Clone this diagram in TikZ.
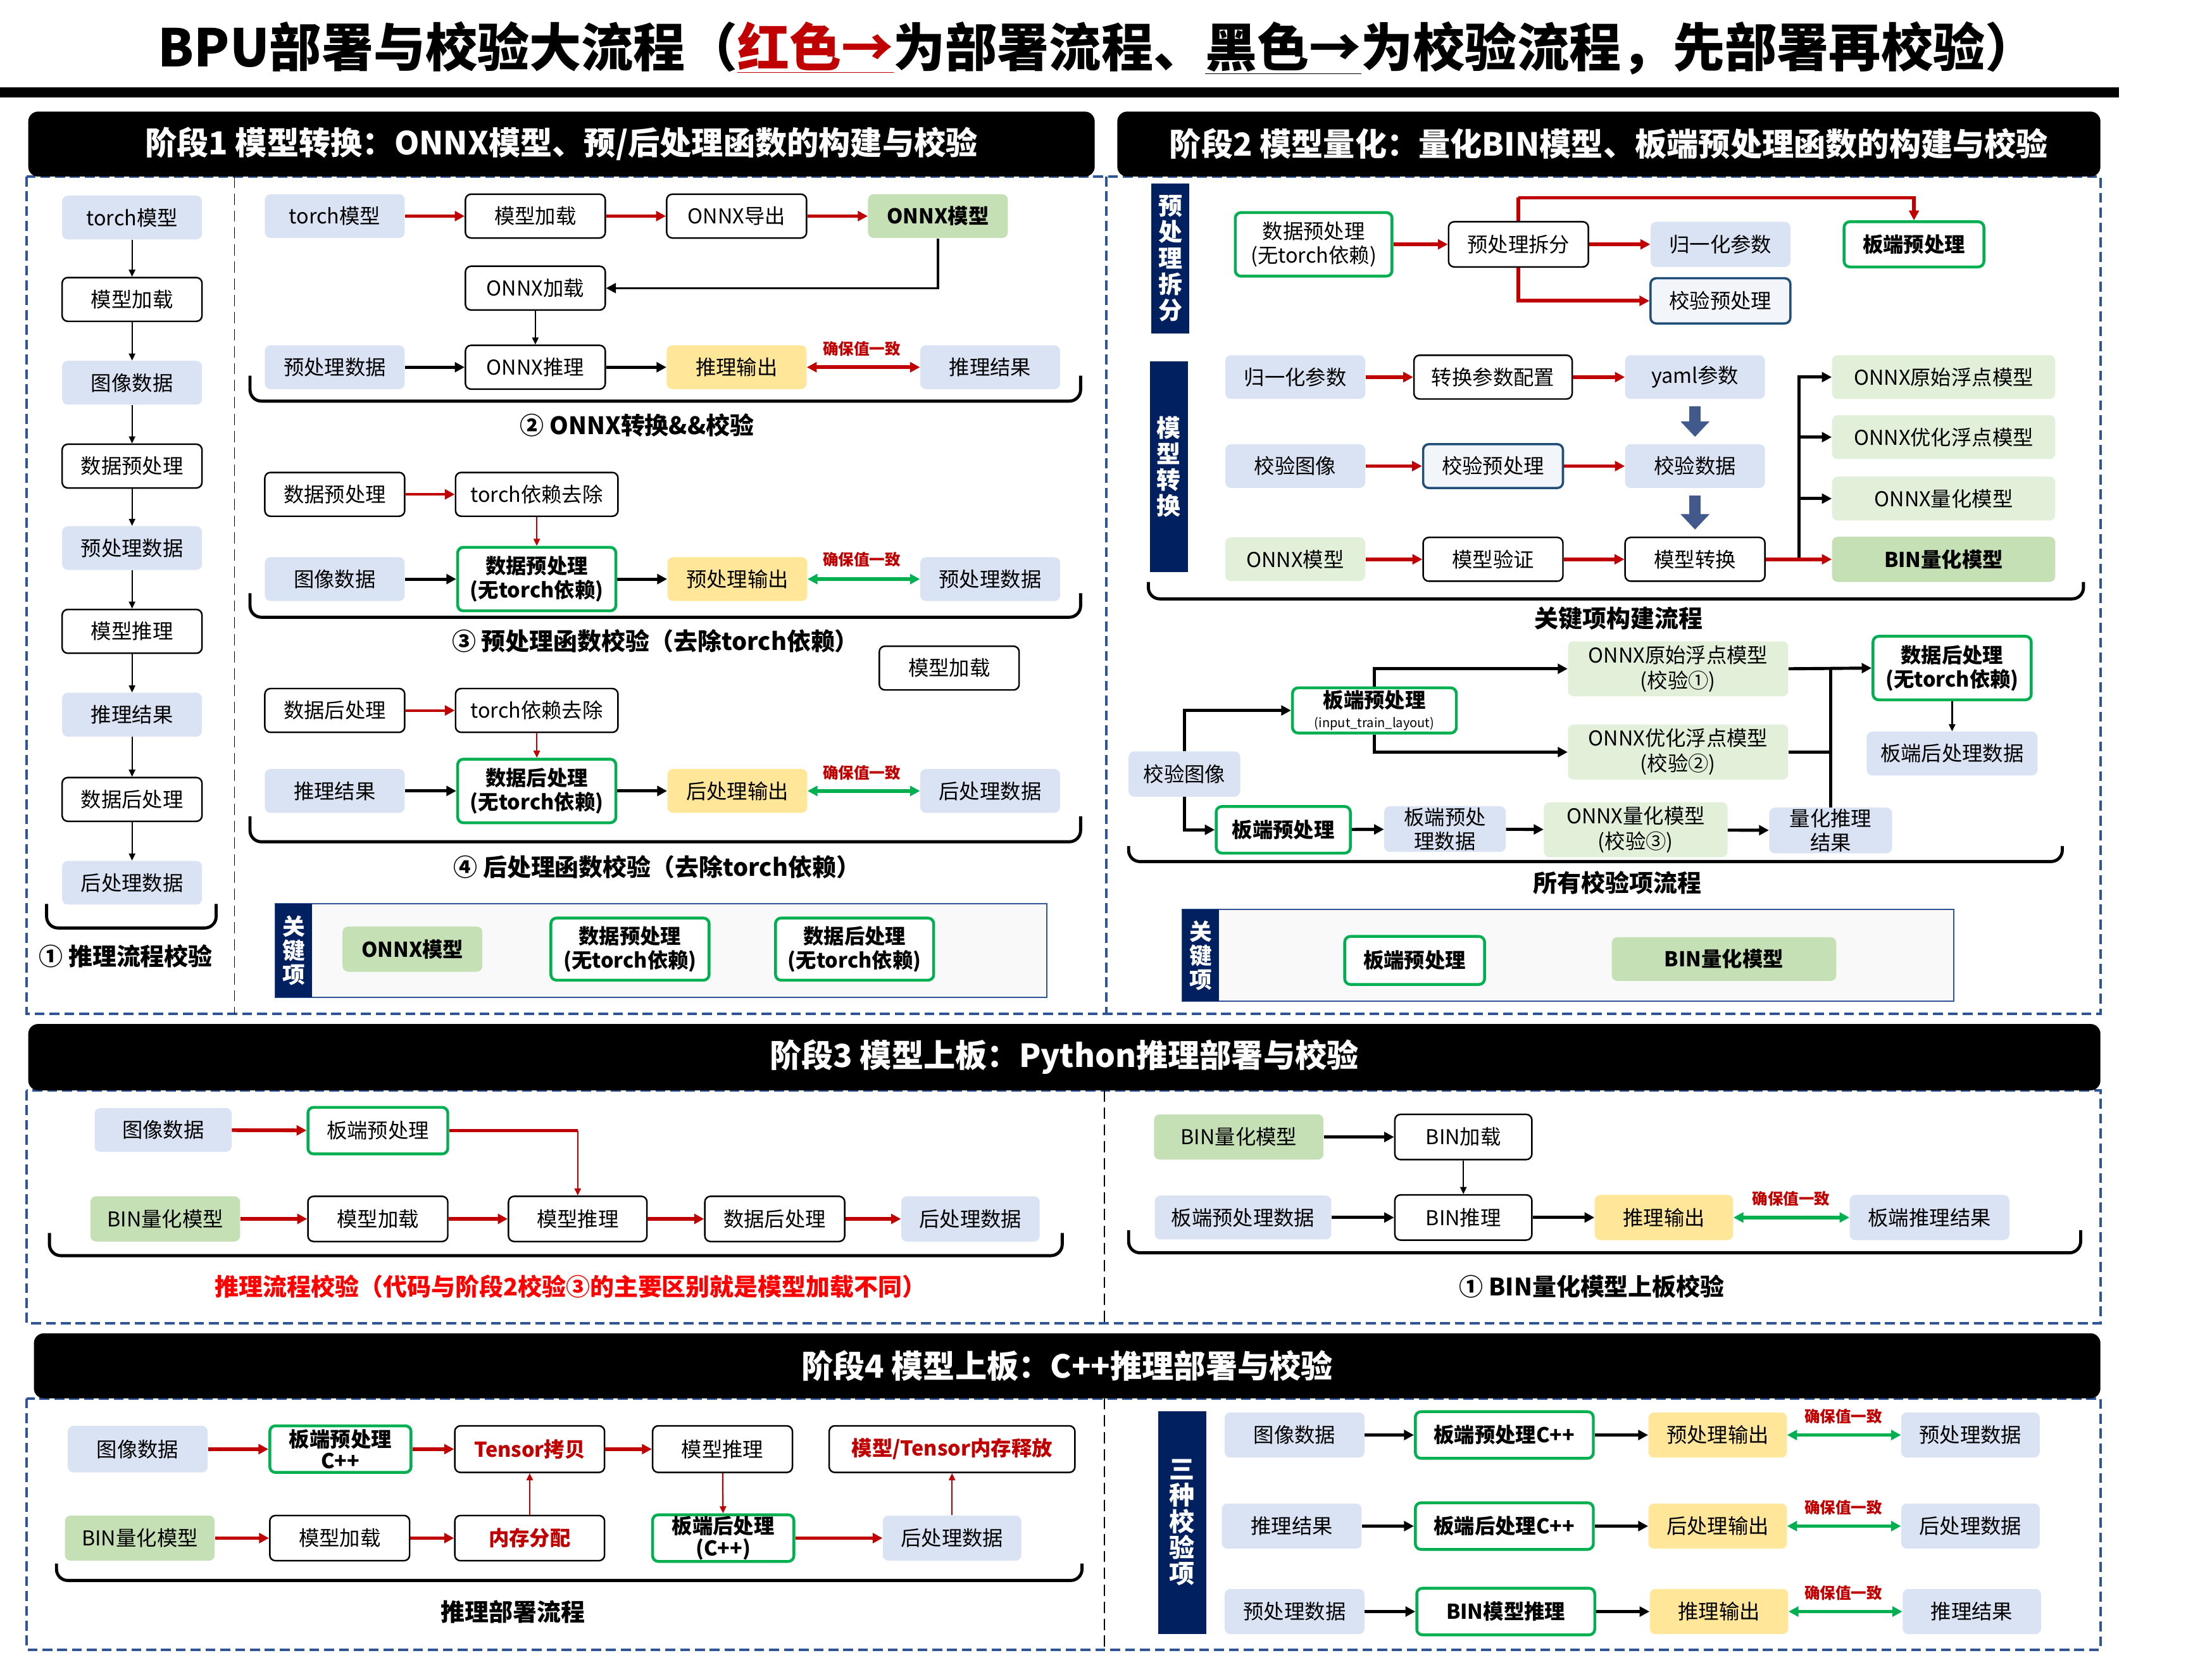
\documentclass[tikz,border=0pt]{standalone}
\usepackage{fontspec}
\setmainfont{Noto Sans CJK SC}
\usepackage{xcolor}
\usetikzlibrary{arrows.meta}
\definecolor{cBlue}{HTML}{DAE3F3}
\definecolor{cGreen}{HTML}{C5E0B4}
\definecolor{cLtGreen}{HTML}{E2F0D9}
\definecolor{cYellow}{HTML}{FFE699}
\definecolor{cGreenB}{HTML}{00B050}
\definecolor{cRed}{HTML}{C00000}
\definecolor{cBright}{HTML}{FF0000}
\definecolor{cNavy}{HTML}{002060}
\definecolor{cDash}{HTML}{2F5597}
\definecolor{cDkBlue}{HTML}{1F4E79}
\definecolor{cPale}{HTML}{F2F6FB}
\definecolor{cArrow}{HTML}{42598C}
\definecolor{cKey}{HTML}{F9F9F9}

\begin{document}
\begin{tikzpicture}[x=1pt,y=-1pt,
  every node/.style={font=\fontsize{14.5}{16}\selectfont},
  box/.style={rounded corners=4pt,minimum width=99pt,minimum height=31pt,inner sep=1pt,align=center},
  blu/.style={box,fill=cBlue},
  wht/.style={box,draw=black,line width=1.1pt,fill=white},
  grn/.style={box,fill=cGreen},
  lgrn/.style={box,fill=cLtGreen},
  ylw/.style={box,fill=cYellow},
  gbox/.style={box,draw=cGreenB,line width=2pt,fill=white},
  vbox/.style={box,draw=cDkBlue,line width=1.6pt,fill=cPale},
  heavy/.style={font=\fontsize{14.5}{16}\selectfont\bfseries},
  heavy2/.style={font=\fontsize{14.5}{17}\selectfont\bfseries},
  two/.style={font=\fontsize{14.5}{18}\selectfont},
  hdr/.style={fill=black,rounded corners=7pt,text=white,font=\fontsize{22.5}{24}\selectfont\bfseries},
  lbl/.style={font=\fontsize{17}{19}\selectfont\bfseries},
  chk/.style={text=cRed,font=\fontsize{11}{12}\selectfont\bfseries},
  strip/.style={fill=cNavy,text=white,align=center,inner sep=0pt,font=\fontsize{17}{18.5}\selectfont\bfseries},
  dep/.style={draw=cRed,line width=2.6pt,-{Triangle[length=7pt,width=7pt]}},
  depthin/.style={draw=cRed,line width=1pt,-{Triangle[length=5pt,width=4.5pt]}},
  ver/.style={draw=black,line width=2.2pt,-{Triangle[length=7pt,width=7pt]}},
  verthin/.style={draw=black,line width=1pt,-{Triangle[length=5pt,width=4.5pt]}},
  same/.style={draw=cGreenB,line width=2.6pt,{Triangle[length=7pt,width=7pt]}-{Triangle[length=7pt,width=7pt]}},
  samered/.style={same,draw=cRed},
  bkt/.style={draw=black,line width=2.2pt,rounded corners=8pt},
  dashbox/.style={draw=cDash,line width=1.8pt,dash pattern=on 7pt off 3.5pt},
  divline/.style={draw=black,line width=0.8pt,dash pattern=on 8pt off 4pt},
  bigarr/.style={draw=cArrow,line width=8pt,-{Triangle[length=11pt,width=20pt]},shorten <=5pt,shorten >=5pt}]
  \useasboundingbox (0,0) rectangle (1566,1170);

  % title
  \node[font=\fontsize{36.8}{40}\selectfont\bfseries] (title) at (777,34) {BPU部署与校验大流程（\textcolor{cRed}{\underline{红色→}}为部署流程、\underline{黑色→}为校验流程，先部署再校验）};
  \fill (0,62) rectangle (1500,69);

  % frames
  \draw[dashbox] (19,125) rectangle (1487,718);
  \draw[dashbox] (783,125) -- (783,718);
  \draw[divline] (166,125) -- (166,718);
  \draw[dashbox] (19,772) rectangle (1487,937);
  \draw[divline] (782,772) -- (782,937);
  \draw[dashbox] (19,990) rectangle (1487,1168);
  \draw[divline] (782,990) -- (782,1168);
  \node[hdr,minimum width=755pt,minimum height=46pt] (hd1) at (397.5,102) {阶段1 模型转换：ONNX模型、预/后处理函数的构建与校验};
  \node[hdr,minimum width=696pt,minimum height=46pt] (hd2) at (1139,102) {阶段2 模型量化：量化BIN模型、板端预处理函数的构建与校验};
  \node[hdr,minimum width=1467pt,minimum height=47pt] (hd3) at (753.5,748.5) {阶段3 模型上板：Python推理部署与校验};
  \node[hdr,minimum width=1463pt,minimum height=46pt] (hd4) at (755.5,967) {阶段4 模型上板：C++推理部署与校验};

  % stage 1, left column
  \node[blu] (L1) at (93.5,154) {torch模型};
  \node[wht] (L2) at (93.5,212) {模型加载};
  \node[blu] (L3) at (93.5,271) {图像数据};
  \node[wht] (L4) at (93.5,330) {数据预处理};
  \node[blu] (L5) at (93.5,388) {预处理数据};
  \node[wht] (L6) at (93.5,447) {模型推理};
  \node[blu] (L7) at (93.5,506) {推理结果};
  \node[wht] (L8) at (93.5,566) {数据后处理};
  \node[blu] (L9) at (93.5,625) {后处理数据};
  \draw[verthin] (L1) -- (L2);
  \draw[verthin] (L2) -- (L3);
  \draw[verthin] (L3) -- (L4);
  \draw[verthin] (L4) -- (L5);
  \draw[verthin] (L5) -- (L6);
  \draw[verthin] (L6) -- (L7);
  \draw[verthin] (L7) -- (L8);
  \draw[verthin] (L8) -- (L9);
  \draw[bkt] (33,640) -- (33,657) -- (153,657) -- (153,640);
  \node[lbl] (lb1) at (89,677) {① 推理流程校验};

  % stage 1, onnx export
  \node[blu] (A1) at (237,153) {torch模型};
  \node[wht] (A2) at (379,153) {模型加载};
  \node[wht] (A3) at (521.5,153) {ONNX导出};
  \node[grn,heavy] (A4) at (664,153) {ONNX模型};
  \node[wht] (A5) at (379,204) {ONNX加载};
  \node[blu] (A6) at (237,260) {预处理数据};
  \node[wht] (A7) at (379,260) {ONNX推理};
  \node[ylw] (A8) at (521.5,260) {推理输出};
  \node[blu] (A9) at (701,260) {推理结果};
  \draw[dep] (A1) -- (A2);
  \draw[dep] (A2) -- (A3);
  \draw[dep] (A3) -- (A4);
  \draw[ver,line width=1.6pt] (A4.south) |- (A5.east);
  \draw[verthin] (A5) -- (A7);
  \draw[ver] (A6) -- (A7);
  \draw[ver] (A7) -- (A8);
  \draw[samered] (A8) -- (A9);
  \node[chk] (ck1) at (610,247) {确保值一致};
  \draw[bkt] (177,266) -- (177,284) -- (765,284) -- (765,266);
  \node[lbl] (lb2) at (451,301) {② ONNX转换\&\&校验};

  % stage 1, pre-processing
  \node[wht] (B1) at (237,350) {数据预处理};
  \node[wht,minimum width=115pt] (B2) at (380,350) {torch依赖去除};
  \node[blu] (B3) at (237,410) {图像数据};
  \node[gbox,heavy2,minimum width=112pt,minimum height=45pt] (B4) at (380,410) {数据预处理\\(无torch依赖)};
  \node[ylw] (B5) at (522,410) {预处理输出};
  \node[blu] (B6) at (701,410) {预处理数据};
  \draw[dep,line width=1.8pt] (B1) -- (B2);
  \draw[depthin] (B2) -- (B4);
  \draw[ver] (B3) -- (B4);
  \draw[ver] (B4) -- (B5);
  \draw[same] (B5) -- (B6);
  \node[chk] (ck2) at (610,396) {确保值一致};
  \draw[bkt] (177,420) -- (177,437) -- (765,437) -- (765,420);
  \node[lbl] (lb3) at (464,454) {③ 预处理函数校验（去除torch依赖）};
  \node[wht] (B7) at (672,473) {模型加载};

  % stage 1, post-processing
  \node[wht] (C1) at (237,503) {数据后处理};
  \node[wht,minimum width=115pt] (C2) at (380,503) {torch依赖去除};
  \node[blu] (C3) at (237,560) {推理结果};
  \node[gbox,heavy2,minimum width=112pt,minimum height=45pt] (C4) at (380,560) {数据后处理\\(无torch依赖)};
  \node[ylw] (C5) at (522,560) {后处理输出};
  \node[blu] (C6) at (701,560) {后处理数据};
  \draw[dep,line width=1.8pt] (C1) -- (C2);
  \draw[depthin] (C2) -- (C4);
  \draw[ver] (C3) -- (C4);
  \draw[ver] (C4) -- (C5);
  \draw[same] (C5) -- (C6);
  \node[chk] (ck3) at (610,547) {确保值一致};
  \draw[bkt] (177,578) -- (177,596) -- (765,596) -- (765,578);
  \node[lbl] (lb4) at (465,614) {④ 后处理函数校验（去除torch依赖）};

  % stage 1, key items
  \draw[draw=cDash,line width=1pt,fill=cKey] (195,640) rectangle (741,706);
  \node[strip,minimum width=26pt,minimum height=66pt,font=\fontsize{16}{17}\selectfont\bfseries] (ks1) at (208,673) {关\\键\\项};
  \node[grn,heavy,minimum height=32pt] (K1) at (292,672) {ONNX模型};
  \node[gbox,heavy2,minimum width=112pt,minimum height=44pt] (K2) at (446,672) {数据预处理\\(无torch依赖)};
  \node[gbox,heavy2,minimum width=112pt,minimum height=44pt] (K3) at (605,672) {数据后处理\\(无torch依赖)};

  % stage 2, split
  \node[strip,minimum width=27pt,minimum height=106pt] (sp1) at (828.5,183) {预\\处\\理\\拆\\分};
  \node[gbox,font=\fontsize{14.5}{17}\selectfont,minimum width=111pt,minimum height=45pt] (P1) at (930,173) {数据预处理\\(无torch依赖)};
  \node[wht,minimum height=32pt] (P2) at (1075,173) {预处理拆分};
  \node[blu,minimum height=32pt] (P3) at (1218,173) {归一化参数};
  \node[gbox,heavy,minimum height=32pt] (P4) at (1355,173) {板端预处理};
  \node[vbox,minimum height=32pt] (P5) at (1218,213) {校验预处理};
  \coordinate (pt) at (1075,140);
  \draw[dep] (P1) -- (P2);
  \draw[dep] (P2) -- (P3);
  \draw[dep,-] (P2.north) -- (pt);
  \draw[dep] (pt) -| (P4.north);
  \draw[dep] (P2.south) |- (P5.west);

  % stage 2, conversion
  \node[strip,minimum width=27pt,minimum height=149pt] (sp2) at (827.5,330.5) {模\\型\\转\\换};
  \node[blu] (M1) at (917,267) {归一化参数};
  \node[wht,minimum width=112pt] (M2) at (1057,267) {转换参数配置};
  \node[blu] (M3) at (1200,267) {yaml参数};
  \node[blu] (M4) at (917,330) {校验图像};
  \node[vbox] (M5) at (1057,330) {校验预处理};
  \node[blu] (M6) at (1200,330) {校验数据};
  \node[lgrn] (M7) at (917,396) {ONNX模型};
  \node[wht] (M8) at (1057,396) {模型验证};
  \node[wht] (M9) at (1200,396) {模型转换};
  \node[lgrn,minimum width=158pt] (R1) at (1376,267) {ONNX原始浮点模型};
  \node[lgrn,minimum width=158pt] (R2) at (1376,309.5) {ONNX优化浮点模型};
  \node[lgrn,minimum width=158pt] (R3) at (1376,353) {ONNX量化模型};
  \node[grn,heavy,minimum width=158pt,minimum height=32pt] (R4) at (1376,396) {BIN量化模型};
  \draw[dep] (M1) -- (M2);
  \draw[dep] (M2) -- (M3);
  \draw[dep] (M4) -- (M5);
  \draw[dep] (M5) -- (M6);
  \draw[dep] (M7) -- (M8);
  \draw[dep] (M8) -- (M9);
  \draw[bigarr] (M3) -- (M6);
  \draw[bigarr] (M6) -- (M9);
  \coordinate (mx) at (1273.5,396);
  \draw[ver] (mx) |- (R1.west);
  \draw[ver] (mx) |- (R2.west);
  \draw[ver] (mx) |- (R3.west);
  \draw[dep] (M9) -- (R4);
  \draw[bkt] (813,412) -- (813,424) -- (1475,424) -- (1475,412);
  \node[lbl] (lb5) at (1146,438) {关键项构建流程};

  % stage 2, all checks
  \node[blu,minimum width=79pt,minimum height=32pt] (V1) at (838.5,548) {校验图像};
  \node[gbox,minimum width=116pt,minimum height=32pt] (V2) at (973,503) {{\bfseries 板端预处理}\\[-2pt]{\fontsize{9}{10}\selectfont(input\_train\_layout)}};
  \node[lgrn,two,minimum width=156pt,minimum height=39pt] (V3) at (1188,473.5) {ONNX原始浮点模型\\(校验①)};
  \node[lgrn,two,minimum width=156pt,minimum height=39pt] (V4) at (1188,532.5) {ONNX优化浮点模型\\(校验②)};
  \node[gbox,heavy2,minimum width=112pt,minimum height=45pt] (V5) at (1382,473) {数据后处理\\(无torch依赖)};
  \node[blu,minimum width=121pt] (V6) at (1382,533.5) {板端后处理数据};
  \node[gbox,heavy,minimum width=95pt,minimum height=33pt] (V7) at (908.5,587.5) {板端预处理};
  \node[blu,font=\fontsize{14.5}{17}\selectfont,minimum width=86pt,minimum height=32pt] (V8) at (1023,587) {板端预处\\理数据};
  \node[lgrn,two,minimum width=130pt,minimum height=39pt] (V9) at (1158,587.5) {ONNX量化模型\\(校验③)};
  \node[blu,font=\fontsize{14.5}{17}\selectfont,minimum width=87pt,minimum height=32pt] (V10) at (1296,588) {量化推理\\结果};
  \draw[ver] (V1.north) |- (V2.west);
  \draw[ver] (V1.south) |- (V7.west);
  \draw[ver] (V2.north) |- (V3.west);
  \draw[ver] (V2.south) |- (V4.west);
  \draw[ver] (V7) -- (V8);
  \draw[ver] (V8) -- (V9);
  \draw[ver] (V9) -- (V10);
  \draw[ver] (V3.east) -- (V5.west);
  \draw[ver,-] (V4.east) -- (V4.east -| V10.north);
  \draw[ver,-] (V10.north) -- (V10.north |- V5.west);
  \draw[verthin,line width=1.4pt] (V5) -- (V6);
  \draw[bkt] (799,599) -- (799,610) -- (1460,610) -- (1460,599);
  \node[lbl] (lb6) at (1145,625) {所有校验项流程};

  % stage 2, key items
  \draw[draw=cDash,line width=1pt,fill=cKey] (837,644) rectangle (1383,709);
  \node[strip,minimum width=26pt,minimum height=65pt,font=\fontsize{16}{17}\selectfont\bfseries] (ks2) at (850,676.5) {关\\键\\项};
  \node[gbox,heavy,minimum height=34pt] (K4) at (1001.5,680) {板端预处理};
  \node[grn,heavy,minimum width=159pt] (K5) at (1220.5,679) {BIN量化模型};

  % stage 3, python flow
  \node[blu,minimum width=97pt] (S1) at (115.5,800) {图像数据};
  \node[gbox,minimum height=33pt] (S2) at (267.5,800.5) {板端预处理};
  \node[grn,minimum width=106pt,minimum height=32pt] (S3) at (117,863) {BIN量化模型};
  \node[wht,minimum height=32pt] (S4) at (267.5,863) {模型加载};
  \node[wht,minimum width=98pt,minimum height=32pt] (S5) at (409,863) {模型推理};
  \node[wht,minimum height=32pt] (S6) at (548.5,863) {数据后处理};
  \node[blu,minimum width=98pt,minimum height=32pt] (S7) at (687,863) {后处理数据};
  \coordinate (sx) at (409,800.5);
  \draw[dep] (S1) -- (S2);
  \draw[dep,-] (S2) -- (sx);
  \draw[depthin] (sx) -- (S5);
  \draw[dep] (S3) -- (S4);
  \draw[dep] (S4) -- (S5);
  \draw[dep] (S5) -- (S6);
  \draw[dep] (S6) -- (S7);
  \draw[bkt] (35,873) -- (35,889) -- (752,889) -- (752,873);
  \node[lbl,text=cBright] (lb7) at (404,911) {推理流程校验（代码与阶段2校验③的主要区别就是模型加载不同）};

  % stage 3, bin check
  \node[grn,minimum width=120pt,minimum height=32pt] (T1) at (877,805) {BIN量化模型};
  \node[wht,minimum width=97pt,minimum height=32pt] (T2) at (1036,805) {BIN加载};
  \node[blu,minimum width=125pt] (T3) at (880,862) {板端预处理数据};
  \node[wht,minimum width=97pt,minimum height=32pt] (T4) at (1036,862) {BIN推理};
  \node[ylw,minimum width=98pt,minimum height=32pt] (T5) at (1178,862) {推理输出};
  \node[blu,minimum width=113pt,minimum height=32pt] (T6) at (1366,862) {板端推理结果};
  \draw[ver] (T1) -- (T2);
  \draw[verthin] (T2) -- (T4);
  \draw[ver] (T3) -- (T4);
  \draw[ver] (T4) -- (T5);
  \draw[same] (T5) -- (T6);
  \node[chk] (ck4) at (1268,848.5) {确保值一致};
  \draw[bkt] (799,871) -- (799,887) -- (1473,887) -- (1473,871);
  \node[lbl] (lb8) at (1127,911) {① BIN量化模型上板校验};

  % stage 4, c++ flow
  \node[blu,minimum height=33pt] (F1) at (97.5,1026) {图像数据};
  \node[gbox,heavy,minimum width=100pt,minimum height=33pt,font=\fontsize{14.5}{15.5}\selectfont\bfseries] (F2) at (241,1026) {板端预处理\\C++};
  \node[wht,heavy,text=cRed,minimum width=106pt,minimum height=33pt] (F3) at (375,1026) {Tensor拷贝};
  \node[wht,minimum height=33pt] (F4) at (511.5,1026) {模型推理};
  \node[wht,heavy,text=cRed,minimum width=174pt,minimum height=33pt] (F5) at (674,1026) {模型/Tensor内存释放};
  \node[grn,minimum width=106pt,minimum height=32pt] (F6) at (99,1089) {BIN量化模型};
  \node[wht,minimum height=32pt] (F7) at (240.5,1089) {模型加载};
  \node[wht,heavy,text=cRed,minimum width=106pt,minimum height=32pt] (F8) at (375,1089) {内存分配};
  \node[gbox,minimum width=100pt,minimum height=33pt,font=\fontsize{14.5}{15.5}\selectfont\bfseries] (F9) at (512,1089) {板端后处理\\(C++)};
  \node[blu,minimum width=98pt,minimum height=32pt] (F10) at (674,1089) {后处理数据};
  \draw[dep] (F1) -- (F2);
  \draw[dep] (F2) -- (F3);
  \draw[dep] (F3) -- (F4);
  \draw[dep] (F6) -- (F7);
  \draw[dep] (F7) -- (F8);
  \draw[dep] (F9) -- (F10);
  \draw[depthin] (F8) -- (F3);
  \draw[depthin] (F4) -- (F9);
  \draw[depthin] (F10) -- (F5);
  \draw[bkt] (40,1107) -- (40,1119) -- (766,1119) -- (766,1107);
  \node[lbl] (lb9) at (363,1141) {推理部署流程};

  % stage 4, three checks
  \node[strip,minimum width=34pt,minimum height=158pt,font=\fontsize{18}{18.5}\selectfont\bfseries] (sp3) at (837,1078) {三\\种\\校\\验\\项};
  \node[blu,minimum height=32pt] (E1) at (916.5,1016) {图像数据};
  \node[gbox,heavy,minimum width=126pt,minimum height=33pt] (E2) at (1065,1016) {板端预处理C++};
  \node[ylw,minimum width=98pt,minimum height=32pt] (E3) at (1216,1016) {预处理输出};
  \node[blu,minimum width=98pt,minimum height=32pt] (E4) at (1395,1016) {预处理数据};
  \node[blu,minimum height=32pt] (E5) at (914.5,1080.5) {推理结果};
  \node[gbox,heavy,minimum width=126pt,minimum height=33pt] (E6) at (1065,1080.5) {板端后处理C++};
  \node[ylw,minimum width=98pt,minimum height=32pt] (E7) at (1216,1080.5) {后处理输出};
  \node[blu,minimum width=98pt,minimum height=32pt] (E8) at (1395,1080.5) {后处理数据};
  \node[blu,minimum height=32pt] (E9) at (916.5,1141) {预处理数据};
  \node[gbox,heavy,minimum width=126pt,minimum height=33pt] (E10) at (1066,1141) {BIN模型推理};
  \node[ylw,minimum width=98pt,minimum height=32pt] (E11) at (1217,1141) {推理输出};
  \node[blu,minimum width=98pt,minimum height=32pt] (E12) at (1396,1141) {推理结果};
  \draw[ver] (E1) -- (E2);
  \draw[ver] (E2) -- (E3);
  \draw[same] (E3) -- (E4);
  \draw[ver] (E5) -- (E6);
  \draw[ver] (E6) -- (E7);
  \draw[same] (E7) -- (E8);
  \draw[ver] (E9) -- (E10);
  \draw[ver] (E10) -- (E11);
  \draw[same] (E11) -- (E12);
  \node[chk] (ck5) at (1305,1003) {确保值一致};
  \node[chk] (ck6) at (1305,1067.5) {确保值一致};
  \node[chk] (ck7) at (1305,1128) {确保值一致};
\end{tikzpicture}
\end{document}
